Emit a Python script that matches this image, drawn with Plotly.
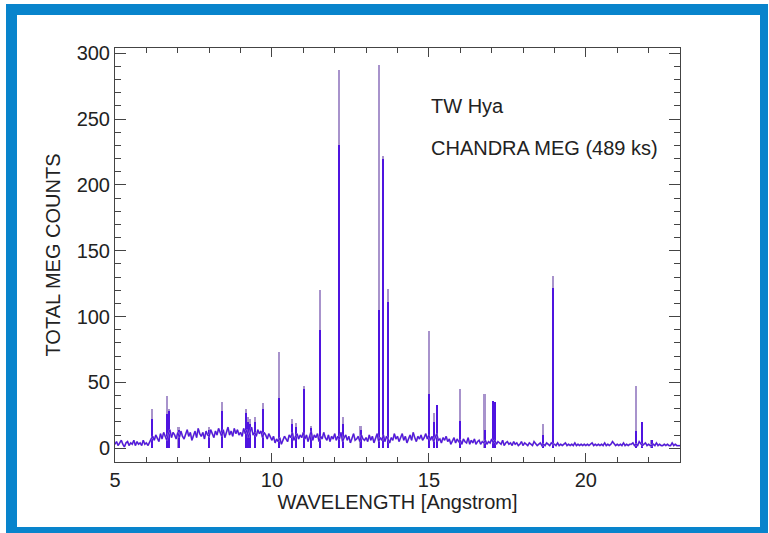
import plotly.graph_objects as go

# ---- data ----
grid_start = 5.0
grid_step = 0.05
continuum = [
    3, 5, 2, 4, 6, 3, 1, 4, 5, 2, 4, 3, 6, 2, 5, 3, 4, 2, 6, 3,              # 5
    4, 2, 5, 7, 9, 6, 10, 8, 5, 11, 7, 12, 9, 6, 11, 14, 8, 12, 10, 7,       # 6
    12, 8, 13, 9, 7, 11, 14, 9, 12, 6, 10, 13, 8, 15, 11, 9, 12, 7, 13, 10,  # 7
    9, 14, 11, 8, 13, 10, 15, 12, 9, 14, 8, 12, 16, 10, 13, 9, 15, 11, 14, 10,  # 8
    12, 9, 15, 11, 14, 8, 13, 16, 10, 12, 9, 14, 11, 13, 8, 12, 10, 7, 11, 8,   # 9
    6, 9, 4, 7, 5, 8, 3, 6, 9, 7, 5, 10, 8, 12, 6, 9, 11, 7, 10, 8,          # 10
    12, 7, 10, 5, 9, 13, 6, 10, 8, 11, 5, 9, 7, 12, 8, 6, 10, 5, 9, 7,       # 11
    11, 6, 9, 7, 12, 5, 8, 10, 6, 9, 4, 8, 11, 6, 7, 9, 5, 10, 7, 6,         # 12
    8, 5, 10, 6, 9, 4, 7, 11, 5, 8, 6, 10, 5, 9, 7, 4, 8, 6, 11, 7,          # 13
    9, 5, 8, 11, 6, 9, 4, 7, 10, 6, 12, 8, 5, 9, 7, 10, 6, 8, 11, 7,         # 14
    10, 6, 9, 5, 8, 11, 6, 7, 4, 8, 6, 9, 5, 7, 3, 6, 8, 4, 7, 5,            # 15
    6, 3, 7, 5, 4, 8, 3, 6, 4, 7, 3, 5, 6, 3, 5, 4, 6, 3, 5, 4,              # 16
    7, 4, 6, 3, 5, 4, 3, 6, 2, 4, 5, 3, 4, 2, 5, 3, 4, 2, 3, 5,              # 17
    2, 4, 3, 2, 4, 3, 2, 5, 3, 2, 3, 4, 2, 3, 2, 4, 3, 2, 4, 3,              # 18
    3, 2, 4, 2, 3, 2, 3, 4, 2, 3, 2, 3, 2, 4, 2, 3, 2, 3, 2, 3,              # 19
    2, 3, 2, 3, 4, 2, 3, 2, 3, 2, 3, 2, 4, 2, 3, 2, 3, 5, 3, 2,              # 20
    3, 2, 3, 2, 4, 2, 3, 2, 3, 3, 4, 2, 3, 2, 5, 3, 2, 3, 4, 2,              # 21
    3, 2, 2, 3, 2, 4, 2, 3, 2, 2, 3, 2, 3, 2, 2, 4, 2, 3, 2, 2,              # 22
    2,                                                                       # 23.0
]
wavelength = [round(grid_start + i * grid_step, 3) for i in range(len(continuum))]

line_wl = [6.18, 6.65, 6.74, 7.03, 8.00, 8.42, 9.17, 9.23, 9.31, 9.48, 9.71,
           10.24, 10.64, 10.76, 11.02, 11.25, 11.55, 12.13, 12.26, 12.83,
           13.42, 13.55, 13.70, 15.01, 15.18, 15.26, 16.00, 16.78, 17.05,
           17.10, 18.63, 18.97, 21.60, 21.80, 22.10]
line_total = [30, 40, 30, 16, 16, 35, 30, 24, 22, 24, 34,
              73, 22, 19, 47, 17, 120, 287, 24, 17,
              291, 222, 121, 89, 27, 33, 45, 41, 36,
              35, 18, 131, 47, 20, 6]
line_core = [22, 26, 28, 14, 14, 28, 27, 20, 18, 20, 30,
             38, 18, 16, 45, 15, 90, 230, 18, 14,
             105, 220, 111, 41, 20, 33, 21, 14, 36,
             35, 10, 122, 13, 20, 6]

x_ticks = [5, 10, 15, 20]
y_ticks = [0, 50, 100, 150, 200, 250, 300]

BLUE = "#4f14e0"
LAV = "#a893cc"
FRAME = "#0884cc"
FONT = "Liberation Sans, Arial, Helvetica, sans-serif"
FS = 20

fig = go.Figure()
fig.add_trace(go.Bar(x=line_wl, y=line_total, width=0.05,
                     marker=dict(color=LAV, line=dict(width=0)), hoverinfo="skip"))
fig.add_trace(go.Bar(x=line_wl, y=line_core, width=0.045,
                     marker=dict(color=BLUE, line=dict(width=0)), hoverinfo="skip"))
fig.add_trace(go.Scatter(x=wavelength, y=continuum, mode="lines",
                         line=dict(color=LAV, width=1.8), hoverinfo="skip"))
fig.add_trace(go.Scatter(x=wavelength, y=continuum, mode="lines",
                         line=dict(color=BLUE, width=1.2), hoverinfo="skip"))

axis_common = dict(
    showline=True, linecolor="#444", linewidth=1, mirror="ticks",
    ticks="inside", tickcolor="#444", showgrid=False, zeroline=False,
    tickfont=dict(family=FONT, size=FS, color="#222"),
)
fig.update_xaxes(range=[5, 23], tickvals=x_ticks, ticklen=9, tickwidth=1,
                 minor=dict(dtick=1, ticklen=5, ticks="inside", tickcolor="#444"),
                 title=dict(text="WAVELENGTH [Angstrom]", standoff=2,
                            font=dict(family=FONT, size=FS, color="#222")),
                 **axis_common)
fig.update_yaxes(range=[-10.5, 304], tickvals=y_ticks, ticklen=11, tickwidth=1,
                 minor=dict(dtick=10, ticklen=6, ticks="inside", tickcolor="#444"),
                 title=dict(text="TOTAL MEG COUNTS", standoff=10,
                            font=dict(family=FONT, size=FS, color="#222")),
                 **axis_common)

fig.add_annotation(x=15.0, y=260, text="TW Hya", showarrow=False,
                   xanchor="left", yanchor="middle",
                   font=dict(family=FONT, size=FS, color="#222"))
fig.add_annotation(x=15.0, y=228, text="CHANDRA MEG (489 ks)", showarrow=False,
                   xanchor="left", yanchor="middle",
                   font=dict(family=FONT, size=FS, color="#222"))

# blue frame around the picture (paper coords relative to plot area)
L, R, T, B = 115, 680, 48, 462
W, H = R - L, B - T
def px(x): return (x - L) / W
def py(y): return (B - y) / H
bands = [(6, 4, 17, 533), (6, 4, 768, 15), (760, 4, 768, 533), (6, 527, 768, 533)]
for x0, y0, x1, y1 in bands:
    fig.add_shape(type="rect", xref="paper", yref="paper",
                  x0=px(x0), x1=px(x1), y0=py(y1), y1=py(y0),
                  fillcolor=FRAME, line=dict(width=0), layer="above")

fig.update_layout(
    width=769, height=533,
    margin=dict(l=L, r=769 - R, t=T, b=533 - B),
    paper_bgcolor="white", plot_bgcolor="white",
    showlegend=False, barmode="overlay", bargap=0,
)

fig.write_html("out.html")
